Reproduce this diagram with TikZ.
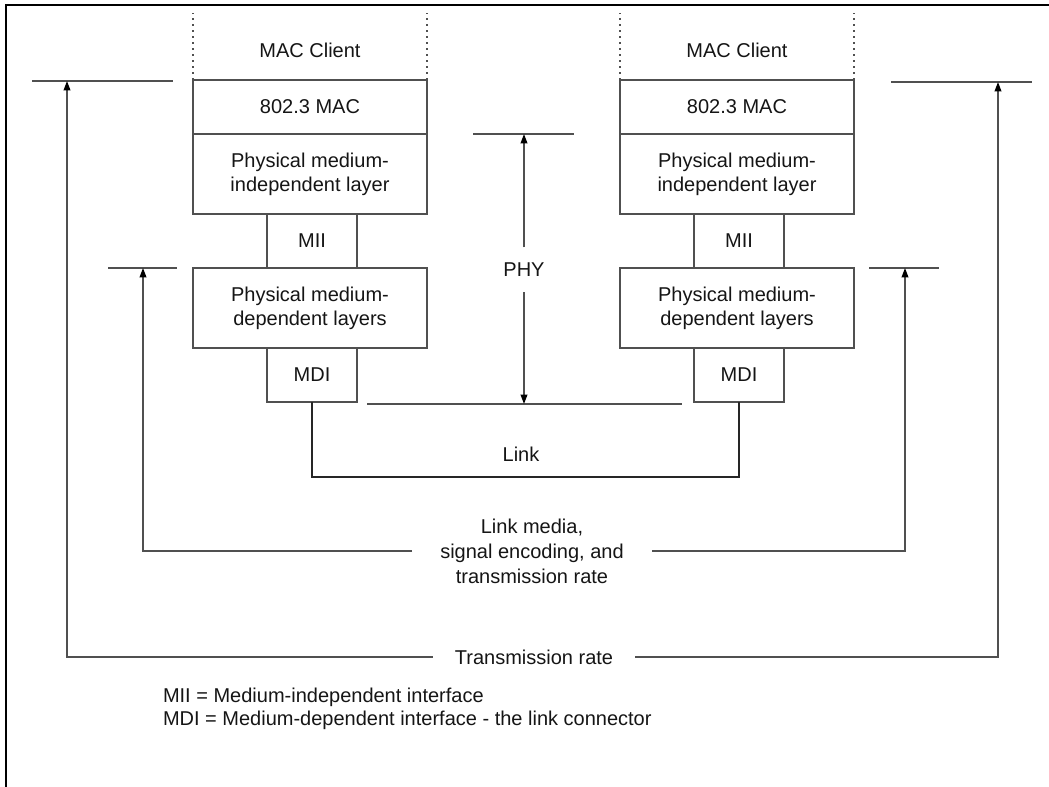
\documentclass[tikz,border=0pt]{standalone}
\usepackage{fontspec}
\setmainfont{Liberation Sans}
\usetikzlibrary{arrows.meta}
\definecolor{ln}{HTML}{505050}
\definecolor{tx}{HTML}{151515}
\begin{document}
\begin{tikzpicture}[x=0.75pt,y=-0.75pt,
  every node/.style={font=\fontsize{15}{18}\selectfont, text=tx},
  layer/.style={draw=ln, line width=1.1pt, inner sep=0pt, outer sep=0pt, minimum width=175.5pt, align=center},
  small/.style={layer, minimum width=67.5pt, minimum height=40.5pt},
  lbl/.style={inner sep=0pt, outer sep=0pt, align=center},
  rule/.style={draw=ln, line width=1.1pt},
  arr/.style={rule, -{Triangle[length=7pt,width=5pt,fill=black,color=black]}},
  dots/.style={draw=ln, line width=1.2pt, dash pattern=on 1.5pt off 3pt},
  sep/.style={draw=ln, line width=1.8pt},
  linkline/.style={draw=black!85, line width=1.6pt}
]
\useasboundingbox (0,0) rectangle (1049,787);

% frame
\draw[black, line width=1.6pt] (6,787) -- (6,5) -- (1049,5);

% left stack
\node[lbl] (lclient) at (310,50) {MAC Client};
\node[layer, minimum height=40.5pt] (lmac) at (310,107) {802.3 MAC};
\node[layer, minimum height=60pt] (lpmi) at (310,174) {Physical medium-\\independent layer};
\node[small] (lmii) at (312,241) {MII};
\node[layer, minimum height=60pt] (lpmd) at (310,308) {Physical medium-\\dependent layers};
\node[small] (lmdi) at (312,375) {MDI};

% right stack
\node[lbl] (rclient) at (737,50) {MAC Client};
\node[layer, minimum height=40.5pt] (rmac) at (737,107) {802.3 MAC};
\node[layer, minimum height=60pt] (rpmi) at (737,174) {Physical medium-\\independent layer};
\node[small] (rmii) at (739,241) {MII};
\node[layer, minimum height=60pt] (rpmd) at (737,308) {Physical medium-\\dependent layers};
\node[small] (rmdi) at (739,375) {MDI};

% separators and dotted client lines
\draw[sep] (lmac.south west) -- (lmac.south east);
\draw[sep] (rmac.south west) -- (rmac.south east);
\coordinate (ctop) at (0,13);
\draw[dots] (lmac.north west) -- (lmac.north west |- ctop);
\draw[dots] (lmac.north east) -- (lmac.north east |- ctop);
\draw[dots] (rmac.north west) -- (rmac.north west |- ctop);
\draw[dots] (rmac.north east) -- (rmac.north east |- ctop);

% PHY
\node[lbl, minimum height=33.75pt] (phy) at (524,270) {PHY};
\coordinate (pA) at (473,134);
\coordinate (pB) at (574,134);
\coordinate (ptip) at (524,134);
\coordinate (qA) at (367,404);
\coordinate (qB) at (682,404);
\coordinate (qtip) at (524,404);
\draw[rule] (pA) -- (pB);
\draw[rule] (qA) -- (qB);
\draw[arr] (phy.north) -- (ptip);
\draw[arr] (phy.south) -- (qtip);

% link
\coordinate (lkb) at (0,477);
\draw[linkline] (lmdi.south) -- (lmdi.south |- lkb) -- (rmdi.south |- lkb) -- (rmdi.south);
\node[lbl] (link) at (521,454) {Link};

% inner arrows
\coordinate (iLa) at (108,268);
\coordinate (iLb) at (177,268);
\coordinate (iLtip) at (143,268);
\coordinate (iRa) at (869,268);
\coordinate (iRb) at (939,268);
\coordinate (iRtip) at (905,268);
\draw[rule] (iLa) -- (iLb);
\draw[rule] (iRa) -- (iRb);
\node[lbl, minimum width=180pt, font=\fontsize{15}{18.75}\selectfont] (lmedia) at (532,551) {Link media,\\signal encoding, and\\transmission rate};
\draw[arr] (lmedia.west) -| (iLtip);
\draw[arr] (lmedia.east) -| (iRtip);

% outer arrows
\coordinate (oLa) at (32,81);
\coordinate (oLb) at (173,81);
\coordinate (oLtip) at (67,81);
\coordinate (oRa) at (891,82);
\coordinate (oRb) at (1032,82);
\coordinate (oRtip) at (998,82);
\draw[rule] (oLa) -- (oLb);
\draw[rule] (oRa) -- (oRb);
\node[lbl, minimum width=152pt] (trate) at (534,657) {Transmission rate};
\draw[arr] (trate.west) -| (oLtip);
\draw[arr] (trate.east) -| (oRtip);

% legend
\node[lbl, anchor=west] (leg1) at (163,697) {MII = Medium-independent interface};
\node[lbl, anchor=west] (leg2) at (163,720) {MDI = Medium-dependent interface - the link connector};
\end{tikzpicture}
\end{document}
